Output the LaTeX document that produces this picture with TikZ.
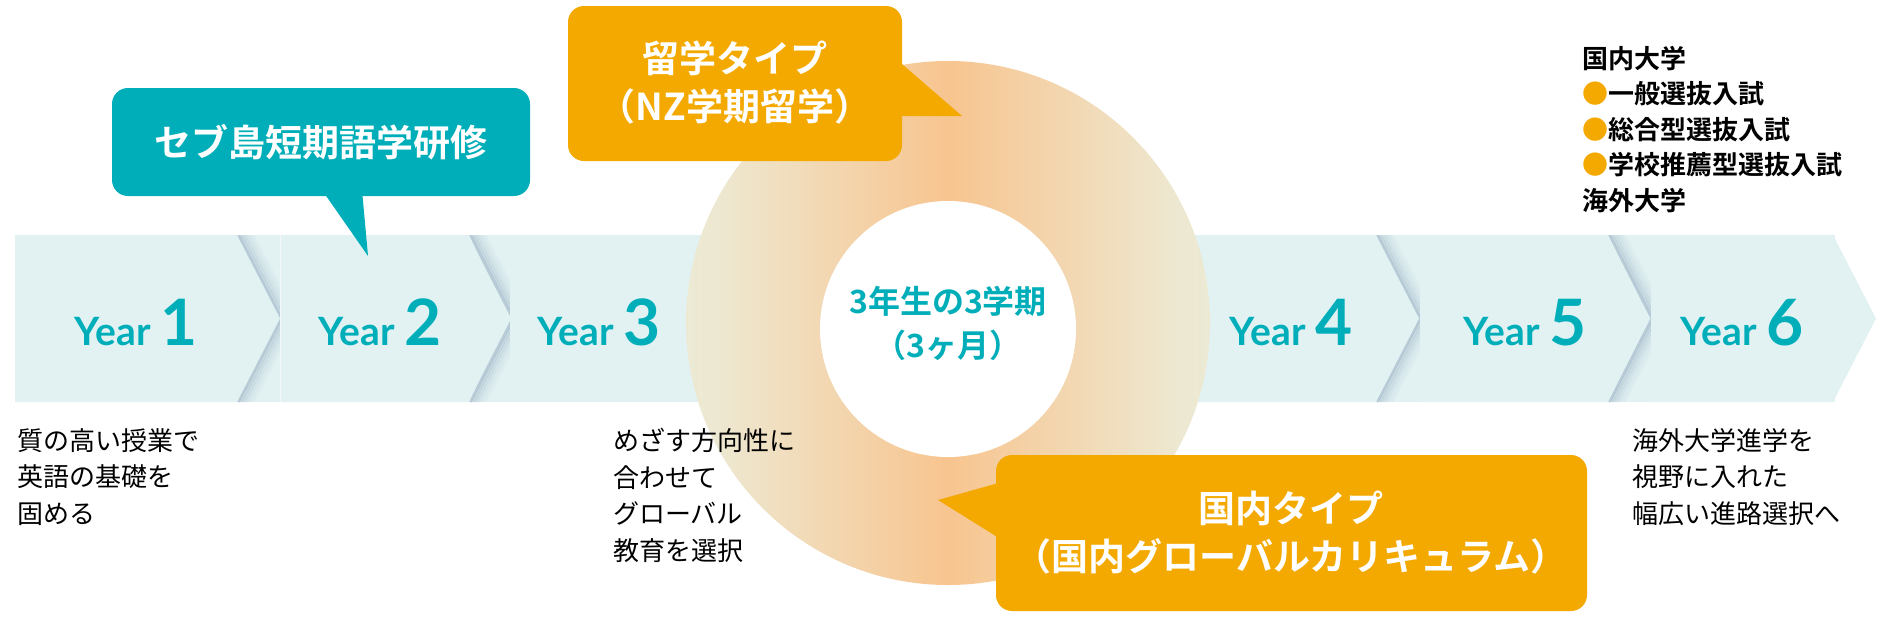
\documentclass[tikz,border=0pt]{standalone}
\usepackage{fontspec}
\setmainfont{Noto Sans CJK JP}
\newfontfamily\jpb{Noto Sans CJK JP Bold}
\newfontfamily\yr{Lato Bold}
\usetikzlibrary{calc}
\definecolor{teal}{HTML}{00AEB9}
\definecolor{orng}{HTML}{F4A900}
\definecolor{band}{HTML}{E2F2F3}
\definecolor{shd}{HTML}{90A8BE}
\pgfdeclarehorizontalshading{ringshade}{100bp}{
 rgb(0bp)=(0.89,0.945,0.935);
 rgb(28bp)=(0.93,0.91,0.82);
 rgb(50bp)=(0.97,0.77,0.56);
 rgb(72bp)=(0.93,0.91,0.82);
 rgb(100bp)=(0.89,0.945,0.935)}
\tikzset{
 yearlbl/.style={text=teal, anchor=base},
 bubtxt/.style={text=white, font=\jpb\fontsize{37}{48}\selectfont, align=center},
 note/.style={anchor=north west, align=left, font=\fontsize{26}{36.5}\selectfont, inner sep=0pt},
}
\newcommand{\yearnode}[3]{\node[yearlbl] (#1) at (#2,345) {\yr\fontsize{39}{39}\selectfont Year \fontsize{64}{64}\selectfont #3};}
\newcommand{\chshadow}[1]{%
 \foreach \d/\o in {1/0.5,4/0.35,7/0.25,10/0.17,13/0.1,16/0.06}{
  \draw[shd, line width=3pt, opacity=\o] (#1+\d,235)--(#1+43+\d,318.5)--(#1+\d,402);}}
\begin{document}
\begin{tikzpicture}[x=1pt,y=-1pt]
\useasboundingbox (0,0) rectangle (1900,624);
\fill[band] (15,235) rectangle (1835,402);
\begin{scope}
\clip (15,235) rectangle (1900,402);
\chshadow{237}\chshadow{469}\chshadow{1376}\chshadow{1608}
\end{scope}
\fill[band] (15,235)--(237,235)--(280,318.5)--(237,402)--(15,402)--cycle;
\fill[band] (281,235)--(469,235)--(509,318.5)--(469,402)--(281,402)--cycle;
\draw[white!90!shd, line width=0.6pt] (280.5,235)--(280.5,402);
\fill[band] (510,235)--(720,235)--(720,402)--(510,402)--cycle;
\fill[band] (1150,235)--(1376,235)--(1419,318.5)--(1376,402)--(1150,402)--cycle;
\fill[band] (1420,235)--(1608,235)--(1650,318.5)--(1608,402)--(1420,402)--cycle;
\fill[band] (1651,235)--(1833,235)--(1876,318.5)--(1833,402)--(1651,402)--cycle;
% ring
\shade[shading=ringshade] (948,323) circle (262);
\fill[white] (948,329) circle (128);
\node[text=teal, font=\jpb\fontsize{32}{44}\selectfont, align=center] (term) at (948,323) {3年生の3学期\\（3ヶ月）};
% years
\yearnode{y1}{136}{1}
\yearnode{y2}{380}{2}
\yearnode{y3}{599}{3}
\yearnode{y4}{1291}{4}
\yearnode{y5}{1525}{5}
\yearnode{y6}{1742}{6}
% teal bubble
\fill[teal, rounded corners=16pt] (112,88) rectangle (530,196);
\coordinate (t1) at (368,256);
\fill[teal] (322,190)--(362,190)--(t1)--cycle;
\node[bubtxt] (cebu) at (321,142) {セブ島短期語学研修};
% orange top
\fill[orng, rounded corners=16pt] (568,6) rectangle (902,161);
\coordinate (t2) at (962,116);
\fill[orng] (895,58)--(895,116)--(t2)--cycle;
\node[bubtxt] (nz) at (735,83) {留学タイプ\\（NZ学期留学）};
% orange bottom
\fill[orng, rounded corners=16pt] (996,455) rectangle (1587,611);
\coordinate (t3) at (938,500);
\fill[orng] (1002,482)--(1002,540)--(t3)--cycle;
\node[bubtxt] (dom) at (1291,533) {国内タイプ\\（国内グローバルカリキュラム）};
% notes
\node[note] (n1) at (17,428) {質の高い授業で\\英語の基礎を\\固める};
\node[note] (n2) at (613,428) {めざす方向性に\\合わせて\\グローバル\\教育を選択};
\node[note] (n3) at (1632,428) {海外大学進学を\\視野に入れた\\幅広い進路選択へ};
\node[note, font=\jpb\fontsize{26}{35.5}\selectfont] (n4) at (1582,46) {国内大学\\
\textcolor{orng}{●}一般選抜入試\\
\textcolor{orng}{●}総合型選抜入試\\
\textcolor{orng}{●}学校推薦型選抜入試\\
海外大学};
\end{tikzpicture}
\end{document}
